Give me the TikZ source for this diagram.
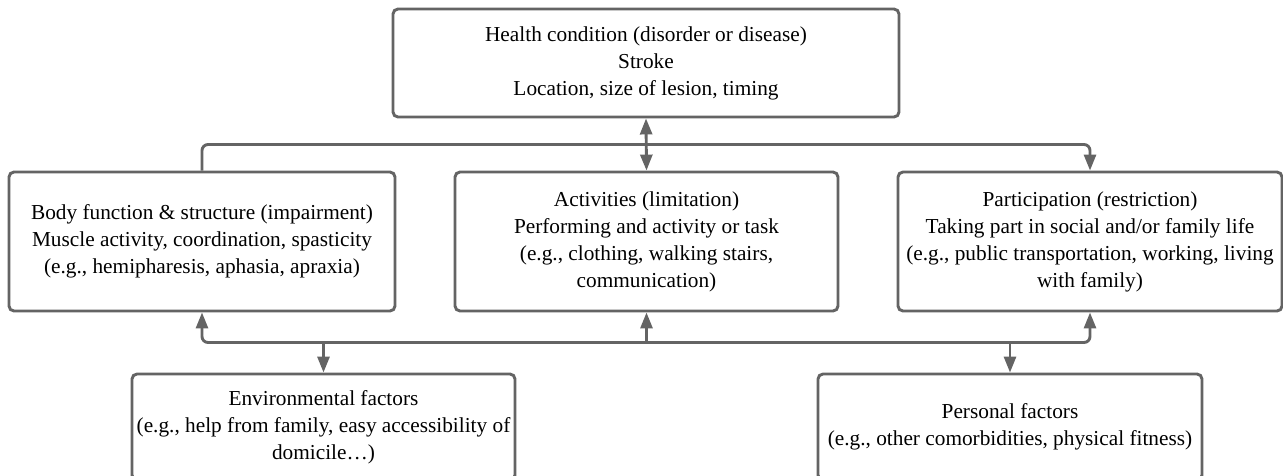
\documentclass[tikz,border=0pt]{standalone}
\usepackage{fontspec}
\setmainfont{Liberation Serif}
\usepackage{tikz}
\usetikzlibrary{calc, positioning, arrows.meta}
\definecolor{linegray}{RGB}{100,100,100}
\tikzstyle{box}=[draw=linegray, line width=2.9pt, rounded corners=5pt, align=center, inner sep=0pt, font=\fontsize{21.3}{27}\selectfont]
\tikzstyle{mid box}=[box, minimum width=386pt, minimum height=139pt]
\tikzstyle{low box}=[box, minimum width=384pt, minimum height=106pt]
\tikzstyle{link}=[draw=linegray, line width=2.9pt, rounded corners=6pt]
\tikzstyle{tip}=[-{Triangle[length=16pt,width=12pt]}]
\tikzstyle{both tips}=[{Triangle[length=16pt,width=12pt]}-{Triangle[length=16pt,width=12pt]}]

\begin{document}
\begin{tikzpicture}[x=1pt, y=-1pt]
		\useasboundingbox (0,0) rectangle (1283,475);
		% Health condition on top
		\node[box, minimum width=506pt, minimum height=108pt] (HC) at (646,63) {Health condition (disorder or disease)\\Stroke\\Location, size of lesion, timing};
		% Middle row
		\node[mid box] (BF) at (202,241.5) {Body function \& structure (impairment)\\Muscle activity, coordination, spasticity\\(e.g., hemipharesis, aphasia, apraxia)};
		\node[mid box, minimum width=383pt] (AC) at (646.5,241.5) {Activities (limitation)\\Performing and activity or task\\(e.g., clothing, walking stairs,\\communication)};
		\node[mid box, minimum width=384pt] (PA) at (1090,241.5) {Participation (restriction)\\Taking part in social and/or family life\\(e.g., public transportation, working, living\\with family)};
		% Contextual factors at the bottom
		\node[low box, minimum width=383pt] (EF) at (323.5,427) {Environmental factors\\(e.g., help from family, easy accessibility of\\domicile\dots)};
		\node[low box] (PF) at (1010,427) {Personal factors\\(e.g., other comorbidities, physical fitness)};
		\coordinate (up) at ($(HC.south)!0.5!(AC.north)$);
		\coordinate (down) at ($(AC.south)!0.5!(EF.north)$);
		% Upper links
		\draw[link, tip] (BF.north) |- (up) -| (PA.north);
		\draw[link, both tips] (HC.south) -- (AC.north);
		% Lower links
		\draw[link, both tips] (BF.south) |- (down) -| (PA.south);
		\draw[link, tip] (down -| AC.south) -- (AC.south);
		\draw[link, tip] (down -| EF.north) -- (EF.north);
		\draw[link, tip] (down -| PF.north) -- (PF.north);
	\end{tikzpicture}
\end{document}
